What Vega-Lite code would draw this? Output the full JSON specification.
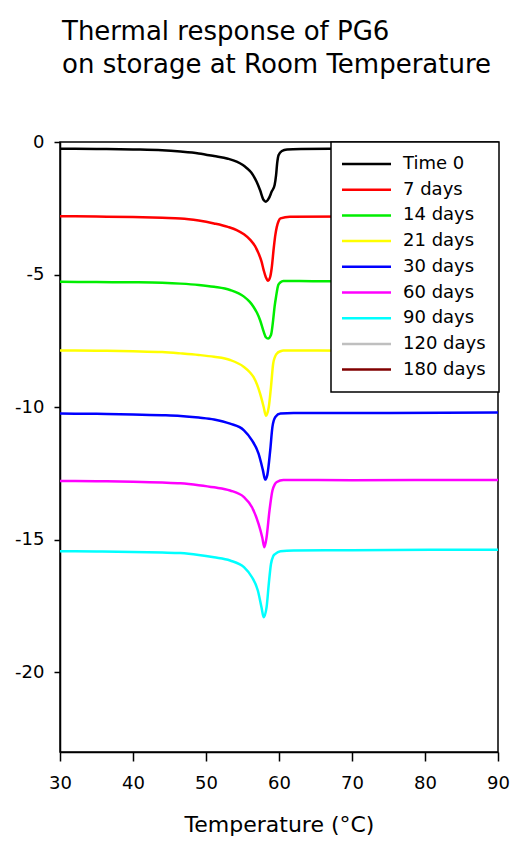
{
  "$schema": "https://vega.github.io/schema/vega-lite/v6.json",
  "width": 438,
  "height": 610,
  "autosize": {"type": "none"},
  "padding": {"left": 60, "top": 142, "right": 14, "bottom": 89},
  "background": "white",
  "config": {
    "font": "DejaVu Sans",
    "view": {"stroke": "black", "strokeWidth": 1.5},
    "axis": {"grid": false, "domainColor": "black", "tickColor": "black", "labelColor": "black", "titleColor": "black", "domainWidth": 1.5, "tickWidth": 1.5, "labelFontSize": 18, "titleFontSize": 22, "titleFontWeight": "normal", "labelFlush": false, "labelExpr": "replace(datum.label, '−', '-')"}
  },
  "title": {
    "text": ["Thermal response of PG6", "on storage at Room Temperature"],
    "anchor": "start",
    "frame": "group",
    "fontSize": 26,
    "fontWeight": "normal",
    "lineHeight": 32.7,
    "offset": 55,
    "dx": 2,
    "color": "black"
  },
  "data": {
    "values": [
      {"s": "Time 0", "T": 30, "v": -0.25}, {"s": "Time 0", "T": 35, "v": -0.26}, {"s": "Time 0", "T": 40, "v": -0.28}, {"s": "Time 0", "T": 44, "v": -0.31}, {"s": "Time 0", "T": 46.5, "v": -0.36}, {"s": "Time 0", "T": 49, "v": -0.43}, {"s": "Time 0", "T": 51.1, "v": -0.53}, {"s": "Time 0", "T": 53, "v": -0.63}, {"s": "Time 0", "T": 54.2, "v": -0.74}, {"s": "Time 0", "T": 55, "v": -0.86}, {"s": "Time 0", "T": 55.6, "v": -0.99}, {"s": "Time 0", "T": 56.2, "v": -1.15}, {"s": "Time 0", "T": 56.7, "v": -1.37}, {"s": "Time 0", "T": 57.1, "v": -1.6}, {"s": "Time 0", "T": 57.4, "v": -1.81}, {"s": "Time 0", "T": 57.9, "v": -2.19}, {"s": "Time 0", "T": 58.2, "v": -2.25}, {"s": "Time 0", "T": 58.6, "v": -2.13}, {"s": "Time 0", "T": 59.0, "v": -1.87}, {"s": "Time 0", "T": 59.4, "v": -1.62}, {"s": "Time 0", "T": 59.6, "v": -1.25}, {"s": "Time 0", "T": 59.75, "v": -0.8}, {"s": "Time 0", "T": 59.95, "v": -0.49}, {"s": "Time 0", "T": 60.4, "v": -0.34}, {"s": "Time 0", "T": 61.1, "v": -0.28}, {"s": "Time 0", "T": 63, "v": -0.26}, {"s": "Time 0", "T": 67, "v": -0.25}, {"s": "Time 0", "T": 75, "v": -0.24}, {"s": "Time 0", "T": 90, "v": -0.23},

      {"s": "7 days", "T": 30, "v": -2.8}, {"s": "7 days", "T": 35, "v": -2.81}, {"s": "7 days", "T": 40, "v": -2.83}, {"s": "7 days", "T": 44, "v": -2.86}, {"s": "7 days", "T": 46.5, "v": -2.88}, {"s": "7 days", "T": 49, "v": -2.96}, {"s": "7 days", "T": 51.1, "v": -3.07}, {"s": "7 days", "T": 53, "v": -3.2}, {"s": "7 days", "T": 54.2, "v": -3.32}, {"s": "7 days", "T": 55.2, "v": -3.48}, {"s": "7 days", "T": 56.1, "v": -3.7}, {"s": "7 days", "T": 56.7, "v": -3.92}, {"s": "7 days", "T": 57.2, "v": -4.2}, {"s": "7 days", "T": 57.6, "v": -4.5}, {"s": "7 days", "T": 57.9, "v": -4.83}, {"s": "7 days", "T": 58.2, "v": -5.1}, {"s": "7 days", "T": 58.5, "v": -5.23}, {"s": "7 days", "T": 58.8, "v": -5.08}, {"s": "7 days", "T": 59.0, "v": -4.75}, {"s": "7 days", "T": 59.3, "v": -3.95}, {"s": "7 days", "T": 59.5, "v": -3.5}, {"s": "7 days", "T": 59.7, "v": -3.2}, {"s": "7 days", "T": 59.95, "v": -2.98}, {"s": "7 days", "T": 60.2, "v": -2.88}, {"s": "7 days", "T": 61.5, "v": -2.82}, {"s": "7 days", "T": 70, "v": -2.81}, {"s": "7 days", "T": 90, "v": -2.79},

      {"s": "14 days", "T": 30, "v": -5.27}, {"s": "14 days", "T": 35, "v": -5.28}, {"s": "14 days", "T": 40, "v": -5.29}, {"s": "14 days", "T": 44, "v": -5.31}, {"s": "14 days", "T": 46.5, "v": -5.34}, {"s": "14 days", "T": 49, "v": -5.39}, {"s": "14 days", "T": 51.1, "v": -5.46}, {"s": "14 days", "T": 53.3, "v": -5.58}, {"s": "14 days", "T": 55.2, "v": -5.83}, {"s": "14 days", "T": 56, "v": -6.03}, {"s": "14 days", "T": 56.5, "v": -6.21}, {"s": "14 days", "T": 57, "v": -6.45}, {"s": "14 days", "T": 57.4, "v": -6.71}, {"s": "14 days", "T": 57.9, "v": -7.15}, {"s": "14 days", "T": 58.2, "v": -7.36}, {"s": "14 days", "T": 58.5, "v": -7.41}, {"s": "14 days", "T": 58.9, "v": -7.28}, {"s": "14 days", "T": 59.2, "v": -6.71}, {"s": "14 days", "T": 59.4, "v": -6.2}, {"s": "14 days", "T": 59.6, "v": -5.83}, {"s": "14 days", "T": 59.9, "v": -5.39}, {"s": "14 days", "T": 60.2, "v": -5.29}, {"s": "14 days", "T": 60.6, "v": -5.24}, {"s": "14 days", "T": 65, "v": -5.25}, {"s": "14 days", "T": 90, "v": -5.24},

      {"s": "21 days", "T": 30, "v": -7.86}, {"s": "21 days", "T": 35, "v": -7.87}, {"s": "21 days", "T": 40, "v": -7.89}, {"s": "21 days", "T": 44, "v": -7.92}, {"s": "21 days", "T": 46.5, "v": -7.97}, {"s": "21 days", "T": 49, "v": -8.03}, {"s": "21 days", "T": 51.1, "v": -8.1}, {"s": "21 days", "T": 53.3, "v": -8.22}, {"s": "21 days", "T": 55.2, "v": -8.48}, {"s": "21 days", "T": 56, "v": -8.68}, {"s": "21 days", "T": 56.5, "v": -8.86}, {"s": "21 days", "T": 57, "v": -9.15}, {"s": "21 days", "T": 57.4, "v": -9.48}, {"s": "21 days", "T": 57.9, "v": -9.99}, {"s": "21 days", "T": 58.2, "v": -10.32}, {"s": "21 days", "T": 58.6, "v": -9.99}, {"s": "21 days", "T": 58.9, "v": -9.24}, {"s": "21 days", "T": 59.2, "v": -8.36}, {"s": "21 days", "T": 59.45, "v": -8.1}, {"s": "21 days", "T": 59.7, "v": -7.98}, {"s": "21 days", "T": 60.2, "v": -7.89}, {"s": "21 days", "T": 60.6, "v": -7.86}, {"s": "21 days", "T": 70, "v": -7.87}, {"s": "21 days", "T": 90, "v": -7.86},

      {"s": "30 days", "T": 30, "v": -10.24}, {"s": "30 days", "T": 35, "v": -10.25}, {"s": "30 days", "T": 40, "v": -10.27}, {"s": "30 days", "T": 44, "v": -10.3}, {"s": "30 days", "T": 46.5, "v": -10.33}, {"s": "30 days", "T": 49, "v": -10.39}, {"s": "30 days", "T": 51.1, "v": -10.46}, {"s": "30 days", "T": 53.3, "v": -10.62}, {"s": "30 days", "T": 55.2, "v": -10.87}, {"s": "30 days", "T": 56.3, "v": -11.25}, {"s": "30 days", "T": 57.2, "v": -11.75}, {"s": "30 days", "T": 57.8, "v": -12.38}, {"s": "30 days", "T": 58.1, "v": -12.73}, {"s": "30 days", "T": 58.4, "v": -12.55}, {"s": "30 days", "T": 58.8, "v": -11.62}, {"s": "30 days", "T": 59.1, "v": -10.74}, {"s": "30 days", "T": 59.5, "v": -10.37}, {"s": "30 days", "T": 60.2, "v": -10.24}, {"s": "30 days", "T": 62, "v": -10.22}, {"s": "30 days", "T": 70, "v": -10.22}, {"s": "30 days", "T": 90, "v": -10.2},

      {"s": "60 days", "T": 30, "v": -12.78}, {"s": "60 days", "T": 35, "v": -12.79}, {"s": "60 days", "T": 40, "v": -12.81}, {"s": "60 days", "T": 44, "v": -12.84}, {"s": "60 days", "T": 46.5, "v": -12.87}, {"s": "60 days", "T": 49, "v": -12.94}, {"s": "60 days", "T": 51.1, "v": -13.02}, {"s": "60 days", "T": 53.3, "v": -13.14}, {"s": "60 days", "T": 55.2, "v": -13.39}, {"s": "60 days", "T": 56.3, "v": -13.77}, {"s": "60 days", "T": 57.2, "v": -14.4}, {"s": "60 days", "T": 57.7, "v": -14.9}, {"s": "60 days", "T": 58.0, "v": -15.28}, {"s": "60 days", "T": 58.3, "v": -14.9}, {"s": "60 days", "T": 58.7, "v": -13.89}, {"s": "60 days", "T": 59.1, "v": -13.14}, {"s": "60 days", "T": 59.4, "v": -12.92}, {"s": "60 days", "T": 59.7, "v": -12.82}, {"s": "60 days", "T": 60.6, "v": -12.74}, {"s": "60 days", "T": 70, "v": -12.75}, {"s": "60 days", "T": 90, "v": -12.74},

      {"s": "90 days", "T": 30, "v": -15.43}, {"s": "90 days", "T": 35, "v": -15.44}, {"s": "90 days", "T": 40, "v": -15.46}, {"s": "90 days", "T": 44, "v": -15.48}, {"s": "90 days", "T": 46.5, "v": -15.5}, {"s": "90 days", "T": 49, "v": -15.57}, {"s": "90 days", "T": 51.1, "v": -15.66}, {"s": "90 days", "T": 53.3, "v": -15.78}, {"s": "90 days", "T": 55.2, "v": -16.03}, {"s": "90 days", "T": 56.3, "v": -16.41}, {"s": "90 days", "T": 57.1, "v": -16.91}, {"s": "90 days", "T": 57.6, "v": -17.54}, {"s": "90 days", "T": 57.9, "v": -17.92}, {"s": "90 days", "T": 58.3, "v": -17.54}, {"s": "90 days", "T": 58.6, "v": -16.66}, {"s": "90 days", "T": 58.9, "v": -15.91}, {"s": "90 days", "T": 59.2, "v": -15.62}, {"s": "90 days", "T": 59.5, "v": -15.53}, {"s": "90 days", "T": 60.2, "v": -15.43}, {"s": "90 days", "T": 62, "v": -15.4}, {"s": "90 days", "T": 70, "v": -15.39}, {"s": "90 days", "T": 90, "v": -15.37}
    ]
  },
  "mark": {"type": "line", "strokeWidth": 2.5, "interpolate": "monotone"},
  "encoding": {
    "x": {
      "field": "T", "type": "quantitative",
      "scale": {"domain": [30, 90], "nice": false, "zero": false},
      "axis": {"values": [30, 40, 50, 60, 70, 80, 90], "title": "Temperature (°C)", "tickSize": 9, "labelPadding": 13, "titlePadding": 22}
    },
    "y": {
      "field": "v", "type": "quantitative",
      "scale": {"domain": [-23, 0], "nice": false, "zero": false},
      "axis": {"values": [0, -5, -10, -15, -20], "title": null, "tickSize": 6, "labelPadding": 10}
    },
    "color": {
      "field": "s", "type": "nominal",
      "scale": {
        "domain": ["Time 0", "7 days", "14 days", "21 days", "30 days", "60 days", "90 days", "120 days", "180 days"],
        "range": ["#000000", "#ff0000", "#00ee00", "#ffff00", "#0000ff", "#ff00ff", "#00ffff", "#bfbfbf", "#800000"]
      },
      "legend": {
        "orient": "none", "legendX": 271, "legendY": 0, "title": null,
        "symbolType": "M-2.2,0H7.6", "symbolSize": 100, "symbolStrokeWidth": 2.5,
        "labelFontSize": 18, "labelColor": "black", "labelOffset": 41, "labelLimit": 200,
        "rowPadding": 7.7, "padding": 13,
        "fillColor": "white", "strokeColor": "black",
        "encode": {"legend": {"update": {"strokeWidth": {"value": 1.5}}}}
      }
    }
  }
}
